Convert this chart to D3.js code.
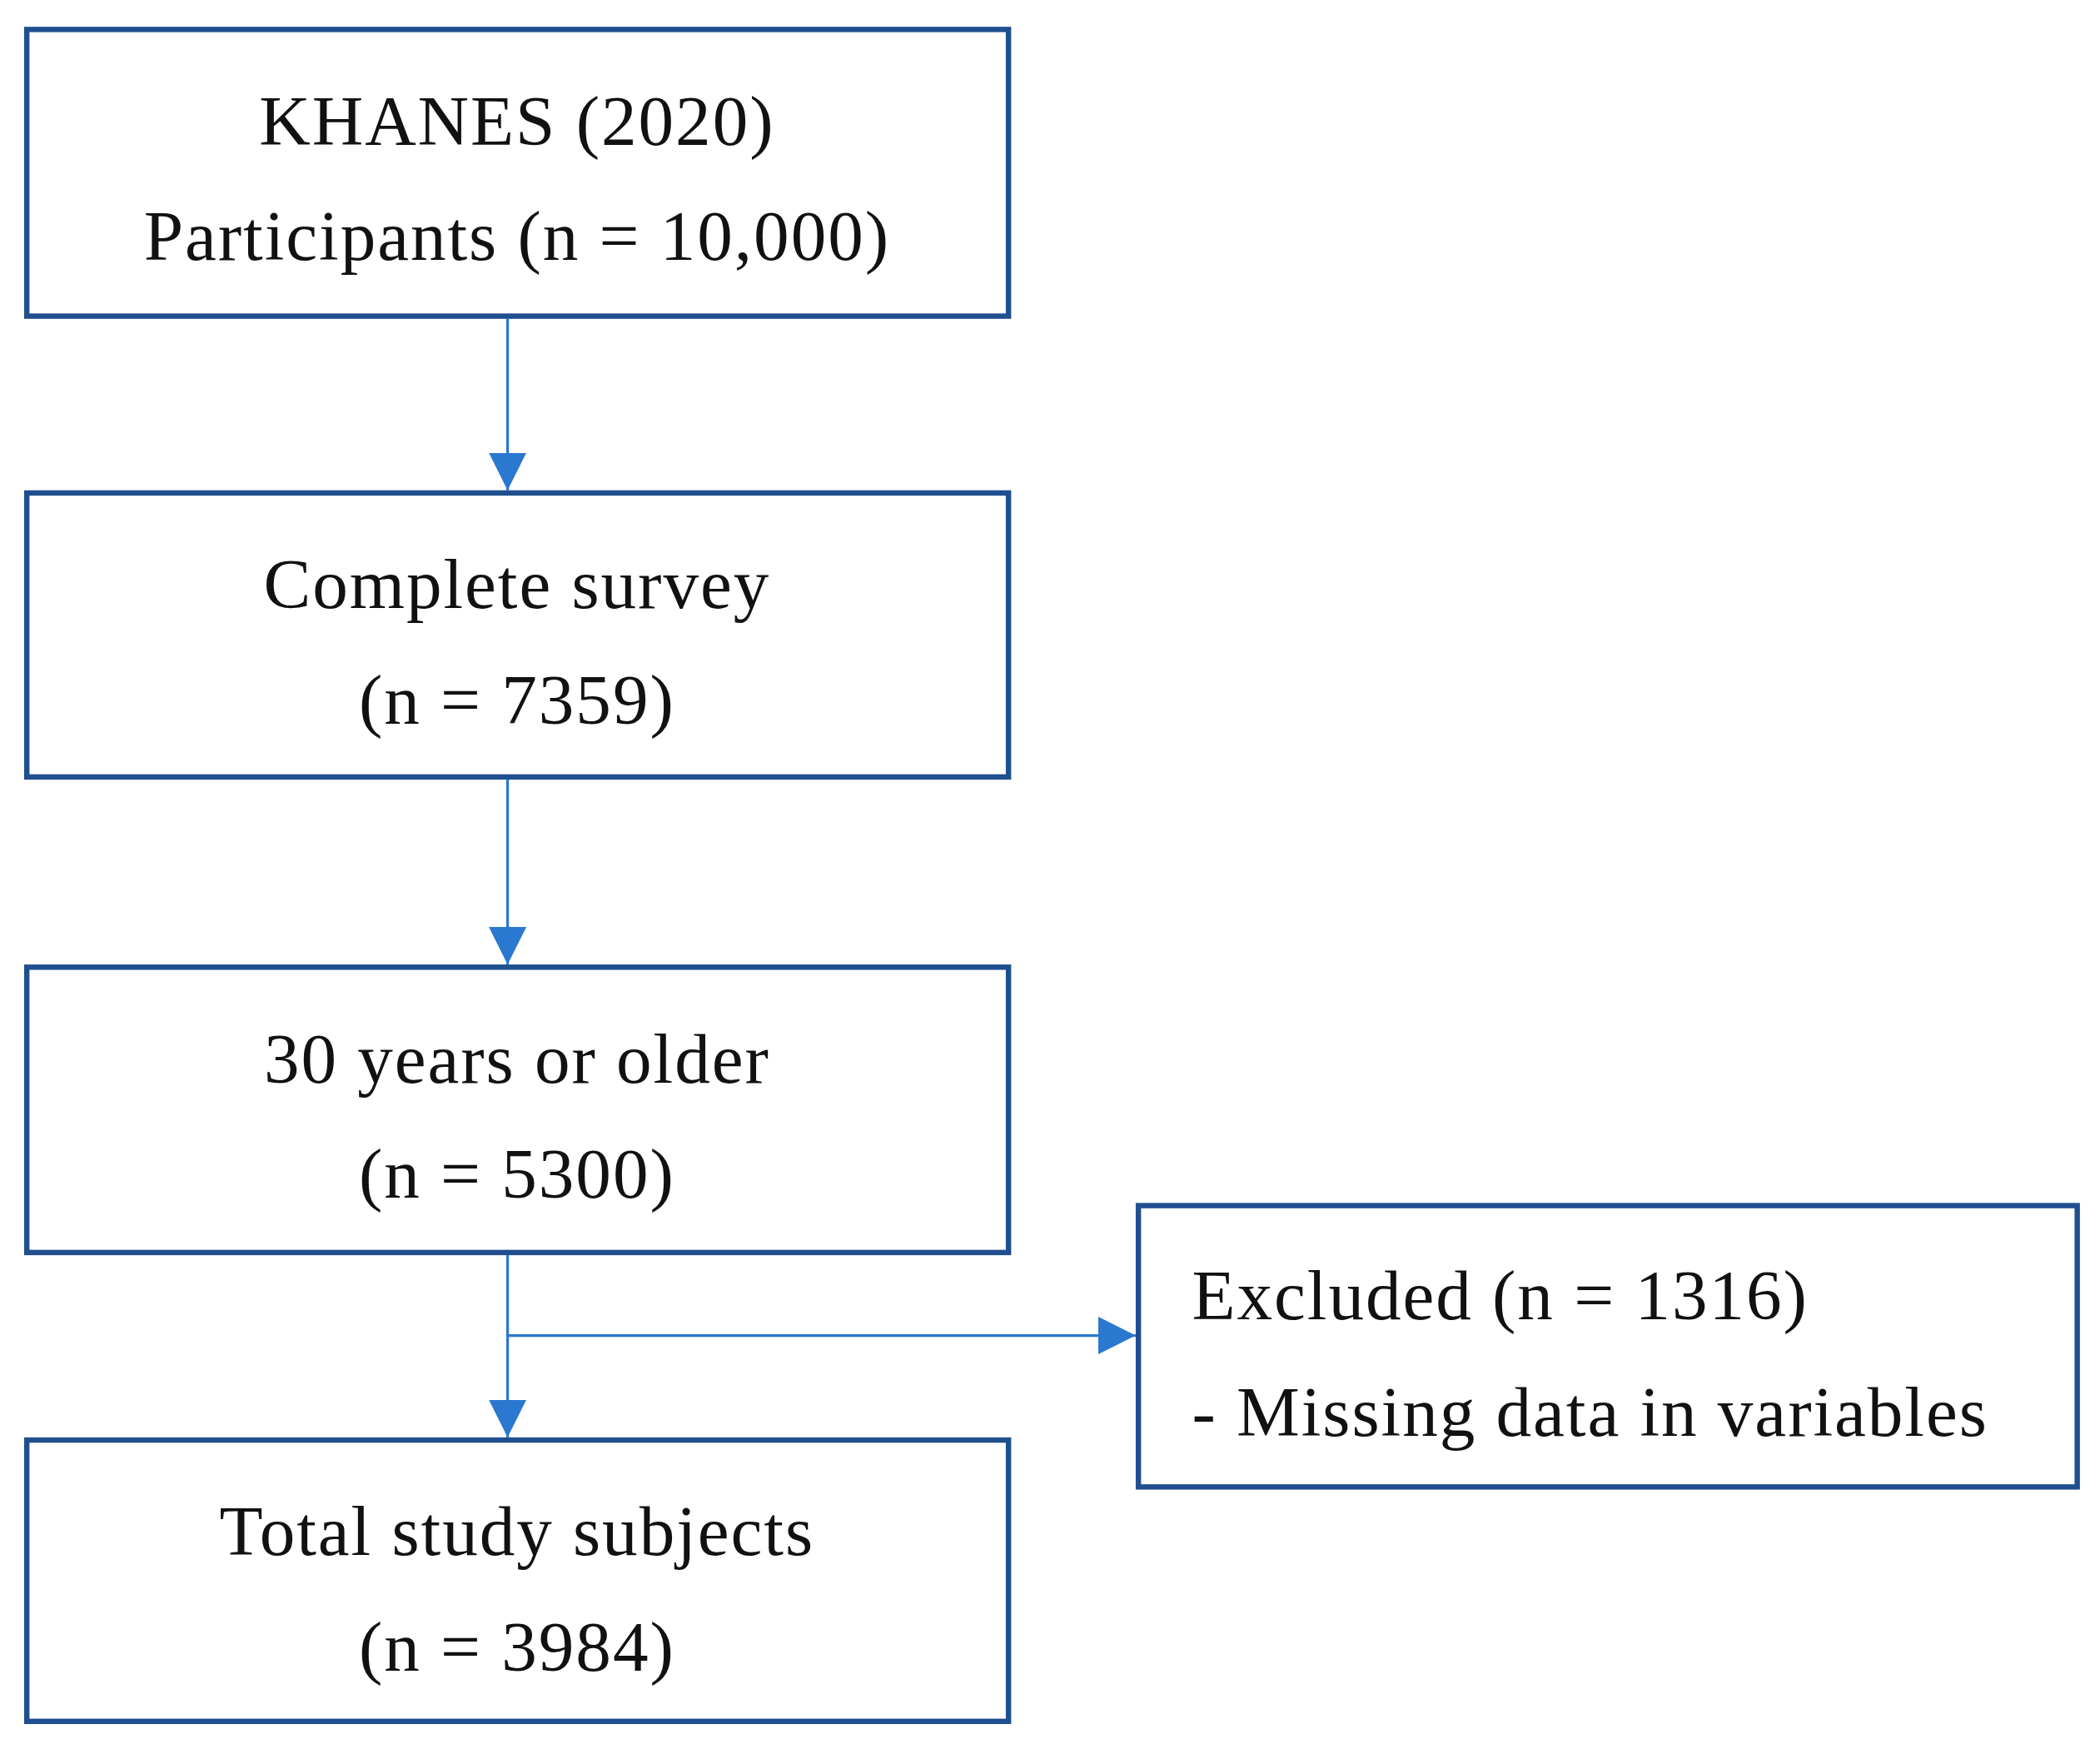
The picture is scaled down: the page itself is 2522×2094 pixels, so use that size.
<!DOCTYPE html>
<html><head><meta charset="utf-8">
<script src="https://cdn.jsdelivr.net/npm/d3@7"></script>
<style>body{margin:0;background:#fff}</style>
</head><body>
<script>
const stageTitles = ["KHANES (2020)", "Complete survey", "30 years or older", "Total study subjects"];
const stageCounts = ["Participants (n = 10,000)", "(n = 7359)", "(n = 5300)", "(n = 3984)"];
const excludedLines = ["Excluded (n = 1316)", "- Missing data in variables"];

const W = 2522, H = 2094, s = W / 1568;
const svg = d3.select("body").append("svg").attr("width", W).attr("height", H);
const g = svg.append("g").attr("transform", `scale(${s})`);
const boxY = [22, 368, 722, 1075], boxH = [214, 212, 213, 210];
const boxStroke = "#1f4f8f", arrowCol = "#2a78d0";
const font = "'Liberation Serif', 'DejaVu Serif', serif";
const fs = 53, ls = 1.2;

g.append("defs").append("marker").attr("id", "ah").attr("viewBox", "0 0 10 10")
  .attr("refX", 10).attr("refY", 5).attr("markerWidth", 28).attr("markerHeight", 30)
  .attr("markerUnits", "userSpaceOnUse").attr("orient", "auto")
  .append("path").attr("d", "M0,0L10,5L0,10Z").attr("fill", arrowCol);

stageTitles.forEach((t, i) => {
  g.append("rect").attr("x", 20).attr("y", boxY[i]).attr("width", 733).attr("height", boxH[i])
    .attr("fill", "#fff").attr("stroke", boxStroke).attr("stroke-width", 4);
  g.append("text").attr("x", 386).attr("y", boxY[i] + 86).attr("text-anchor", "middle")
    .attr("font-family", font).attr("font-size", fs).attr("letter-spacing", ls).attr("fill", "#111").text(t);
  g.append("text").attr("x", 386).attr("y", boxY[i] + 172).attr("text-anchor", "middle")
    .attr("font-family", font).attr("font-size", fs).attr("letter-spacing", ls).attr("fill", "#111").text(stageCounts[i]);
  if (i < 3) {
    g.append("line").attr("x1", 379).attr("x2", 379).attr("y1", boxY[i] + boxH[i] + 2).attr("y2", boxY[i + 1] - 2)
      .attr("stroke", arrowCol).attr("stroke-width", 2).attr("marker-end", "url(#ah)");
  }
});
g.append("line").attr("x1", 379).attr("x2", 848).attr("y1", 997).attr("y2", 997)
  .attr("stroke", arrowCol).attr("stroke-width", 2).attr("marker-end", "url(#ah)");
g.append("rect").attr("x", 850).attr("y", 900).attr("width", 701).attr("height", 210)
  .attr("fill", "#fff").attr("stroke", boxStroke).attr("stroke-width", 4);
excludedLines.forEach((t, i) => {
  g.append("text").attr("x", 890).attr("y", 985 + i * 87)
    .attr("font-family", font).attr("font-size", fs).attr("letter-spacing", ls).attr("fill", "#111").text(t);
});
</script>
</body></html>
